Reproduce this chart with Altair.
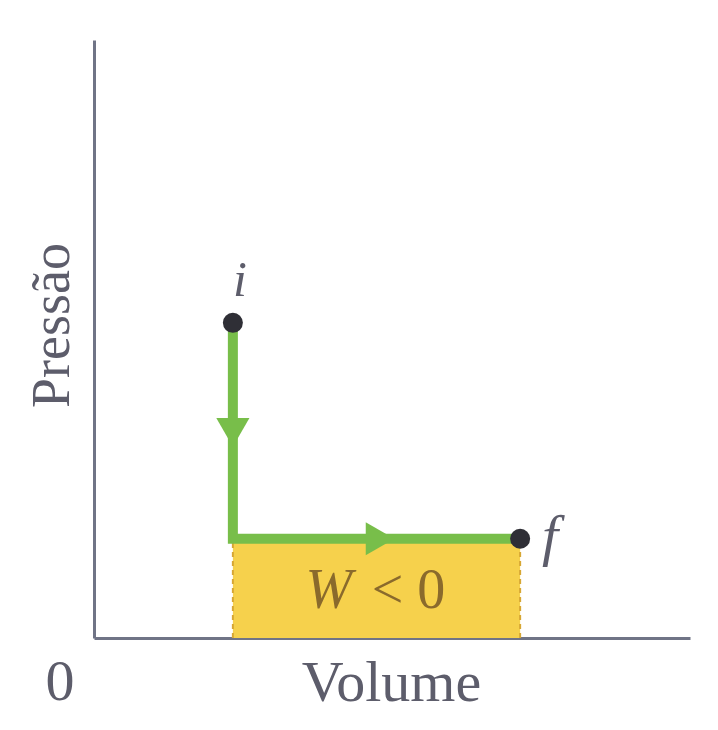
import altair as alt
import pandas as pd

# path points (volume, pressure) in arbitrary units
path_labels = ["i", "corner", "f"]
path_x = [2.33, 2.33, 7.15]
path_y = [5.27, 1.66, 1.66]

# arrow heads along the path
arrow_x = [2.33, 4.80]
arrow_y = [3.44, 1.66]
arrow_shape = ["triangle-down", "triangle-right"]

# end points
pt_name = ["i", "f"]
pt_x = [2.33, 7.15]
pt_y = [5.27, 1.66]

# work area
area_x = [2.33]
area_x2 = [7.15]
area_y = [0.0]
area_y2 = [1.60]

# work label pieces
w_parts = ["W", "< 0"]
w_part_x = [4.33, 4.66]
w_part_y = [0.5, 0.5]

W, H = 596, 598
xs = alt.Scale(domain=[0, 10])
ys = alt.Scale(domain=[0, 10])

path_df = pd.DataFrame({"x": path_x, "y": path_y, "o": list(range(len(path_x)))})
arrow_df = pd.DataFrame({"x": arrow_x, "y": arrow_y, "shape": arrow_shape})
pt_df = pd.DataFrame({"name": pt_name, "x": pt_x, "y": pt_y})
area_df = pd.DataFrame({"x": area_x, "x2": area_x2, "y": area_y, "y2": area_y2})
edge_df = pd.DataFrame({"x": [area_x[0], area_x2[0]], "y": [0.0, 0.0], "y2": [area_y2[0], area_y2[0]]})

axis_color = "#707486"
text_color = "#5d5d6b"
serif = "Liberation Serif"

base_x = alt.X("x:Q", scale=xs,
               axis=alt.Axis(title="Volume", labels=False, ticks=False, grid=False,
                             domainColor=axis_color, domainWidth=3,
                             titleFont=serif, titleFontSize=58, titleFontWeight="normal",
                             titleColor=text_color, titleX=297, titleY=62,
                             titleBaseline="alphabetic", titleAlign="center"))
base_y = alt.Y("y:Q", scale=ys,
               axis=alt.Axis(title="Pressão", labels=False, ticks=False, grid=False,
                             domainColor=axis_color, domainWidth=3,
                             titleFont=serif, titleFontSize=54, titleFontWeight="normal",
                             titleColor=text_color, titleX=-26, titleY=285, titleAngle=-90,
                             titleBaseline="alphabetic", titleAlign="center"))

rect = alt.Chart(area_df).mark_rect(color="#f6d14c", opacity=1).encode(
    x=base_x, x2="x2:Q", y=base_y, y2="y2:Q")

edges = alt.Chart(edge_df).mark_rule(color="#d7a734", strokeWidth=2, strokeDash=[5, 4]).encode(
    x=alt.X("x:Q", scale=xs), y=alt.Y("y:Q", scale=ys), y2="y2:Q")

line = alt.Chart(path_df).mark_line(color="#78be4a", strokeWidth=10, strokeJoin="miter", strokeCap="butt").encode(
    x=alt.X("x:Q", scale=xs), y=alt.Y("y:Q", scale=ys), order="o:Q")

arrows = alt.Chart(arrow_df).mark_point(filled=True, opacity=1, color="#78be4a", size=1100).encode(
    x=alt.X("x:Q", scale=xs), y=alt.Y("y:Q", scale=ys),
    shape=alt.Shape("shape:N", scale=None))

dots = alt.Chart(pt_df).mark_circle(color="#2f2f36", opacity=1, size=400).encode(
    x=alt.X("x:Q", scale=xs), y=alt.Y("y:Q", scale=ys))

lbl_i = alt.Chart(pt_df[pt_df.name == "i"]).mark_text(
    font=serif, fontSize=50, fontStyle="italic", color=text_color, dx=7, dy=-27, baseline="alphabetic"
).encode(x=alt.X("x:Q", scale=xs), y=alt.Y("y:Q", scale=ys), text="name:N")

lbl_f = alt.Chart(pt_df[pt_df.name == "f"]).mark_text(
    font=serif, fontSize=58, fontStyle="italic", color=text_color, dx=30, dy=16, baseline="alphabetic"
).encode(x=alt.X("x:Q", scale=xs), y=alt.Y("y:Q", scale=ys), text="name:N")

w_df = pd.DataFrame({"x": w_part_x, "y": w_part_y, "t": w_parts})
w_italic = alt.Chart(w_df[w_df.t == "W"]).mark_text(
    font=serif, fontSize=56, fontStyle="italic", color="#8a6a2c", baseline="alphabetic", align="right"
).encode(x=alt.X("x:Q", scale=xs), y=alt.Y("y:Q", scale=ys), text="t:N")
w_rest = alt.Chart(w_df[w_df.t != "W"]).mark_text(
    font=serif, fontSize=56, color="#8a6a2c", baseline="alphabetic", align="left"
).encode(x=alt.X("x:Q", scale=xs), y=alt.Y("y:Q", scale=ys), text="t:N")

zero_df = pd.DataFrame({"x": [0.0], "y": [0.0], "t": ["0"]})
zero = alt.Chart(zero_df).mark_text(
    font=serif, fontSize=58, color=text_color, baseline="alphabetic", dx=-34, dy=62
).encode(x=alt.X("x:Q", scale=xs), y=alt.Y("y:Q", scale=ys), text="t:N")

chart = alt.layer(rect, edges, line, arrows, dots, lbl_i, lbl_f, w_italic, w_rest, zero).properties(
    width=W, height=H,
    autosize=alt.AutoSizeParams(type="none"),
    padding={"left": 86, "top": 32, "right": 20, "bottom": 80},
    background="white",
).configure_view(stroke=None)

chart.save("out.html", embed_options={"renderer": "svg", "actions": False})
